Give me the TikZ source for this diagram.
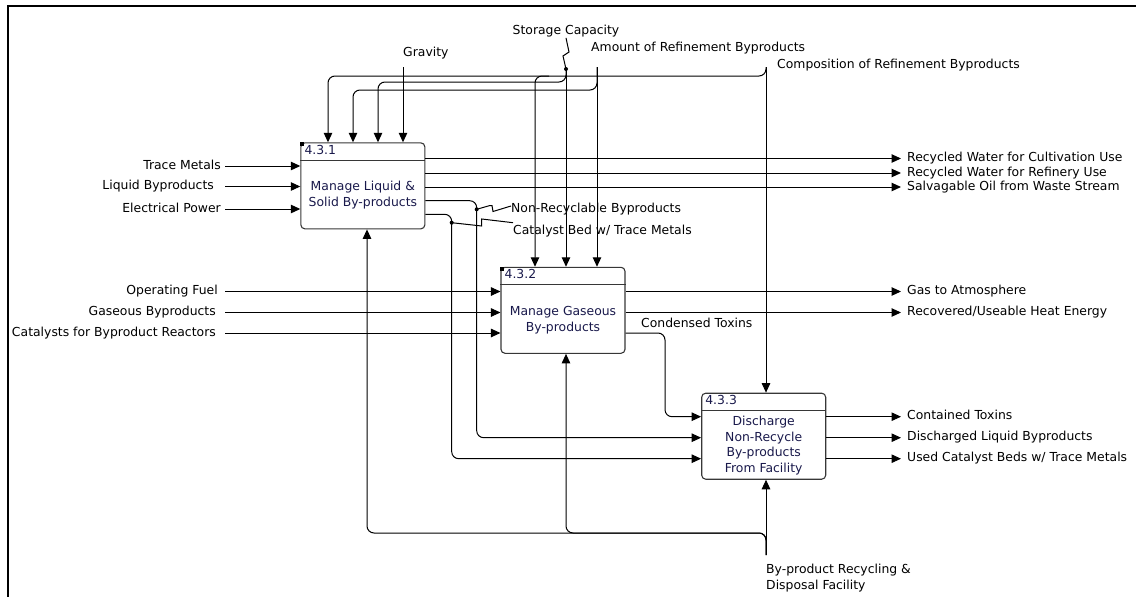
\documentclass[tikz,border=0pt]{standalone}
\usepackage{fontspec}
\setmainfont{DejaVu Sans}
\usetikzlibrary{arrows.meta}
\definecolor{navy}{RGB}{25,25,75}
\definecolor{boxline}{RGB}{55,55,55}
\begin{document}
\begin{tikzpicture}[x=1pt,y=-1pt,
  every node/.style={font=\fontsize{12.4}{15.8}\selectfont},
  lbl/.style={inner sep=0pt, text height=9pt, text depth=3pt},
  box/.style={draw=boxline, line width=1.1pt, rounded corners=4pt, minimum width=124pt, minimum height=86pt, inner sep=0pt},
  divider/.style={draw=boxline, line width=1.1pt},
  arr/.style={-{Triangle[length=9.5pt,width=8.5pt]}, line width=1pt},
  ln/.style={line width=1pt},
  rc/.style={rounded corners=7pt},
  dotc/.style={circle, fill, inner sep=0pt, minimum size=4pt},
  boxtext/.style={align=center, text=navy, inner sep=0pt},
  num/.style={lbl, anchor=west, text=navy}]
\useasboundingbox (0,0) rectangle (1136,597);
% frame
\draw[line width=2pt] (7.5,598) -- (7.5,6) -- (1137,6);

% boxes
\node[box] (b1) at (362.85,185.85) {};
\node[box] (b2) at (563,310.3) {};
\node[box] (b3) at (763.7,436.2) {};
\draw[divider] ([yshift=-18pt]b1.north west) -- ([yshift=-18pt]b1.north east);
\draw[divider] ([yshift=-18pt]b2.north west) -- ([yshift=-18pt]b2.north east);
\draw[divider] ([yshift=-18pt]b3.north west) -- ([yshift=-18pt]b3.north east);
\fill (b1.north west) rectangle ++(4,4);
\fill (b2.north west) rectangle ++(4,4);
\node[num] (n1) at ([xshift=4pt,yshift=-9pt]b1.north west) {4.3.1};
\node[num] (n2) at ([xshift=4pt,yshift=-9pt]b2.north west) {4.3.2};
\node[num] (n3) at ([xshift=4pt,yshift=-9pt]b3.north west) {4.3.3};
\node[boxtext] (t1) at (362.85,195) {Manage Liquid \&\\Solid By-products};
\node[boxtext] (t2) at (563,320) {Manage Gaseous\\By-products};
\node[boxtext] (t3) at (763.7,445.5) {Discharge\\Non-Recycle\\By-products\\From Facility};

% x positions for free line ends
\coordinate (xin) at (225,0);
\coordinate (xout) at (901,0);

% inputs
\node[lbl, anchor=east] (iTM) at (221,166) {Trace Metals};
\node[lbl, anchor=east] (iLB) at (214,186.5) {Liquid Byproducts};
\node[lbl, anchor=east] (iEP) at (221,209) {Electrical Power};
\node[lbl, anchor=east] (iOF) at (218,291.5) {Operating Fuel};
\node[lbl, anchor=east] (iGB) at (216,312.5) {Gaseous Byproducts};
\node[lbl, anchor=east] (iCR) at (216,333) {Catalysts for Byproduct Reactors};
\draw[arr] (xin |- iTM.east) -- (iTM.east -| b1.west);
\draw[arr] (xin |- iLB.east) -- (iLB.east -| b1.west);
\draw[arr] (xin |- iEP.east) -- (iEP.east -| b1.west);
\draw[arr] (xin |- iOF.east) -- (iOF.east -| b2.west);
\draw[arr] (xin |- iGB.east) -- (iGB.east -| b2.west);
\draw[arr] (xin |- iCR.east) -- (iCR.east -| b2.west);

% outputs
\node[lbl, anchor=west] (oRC) at (907,158.5) {Recycled Water for Cultivation Use};
\node[lbl, anchor=west] (oRR) at (907,173) {Recycled Water for Refinery Use};
\node[lbl, anchor=west] (oSO) at (907,187) {Salvagable Oil from Waste Stream};
\node[lbl, anchor=west] (oGA) at (907,291.5) {Gas to Atmosphere};
\node[lbl, anchor=west] (oRH) at (907,312.5) {Recovered/Useable Heat Energy};
\node[lbl, anchor=west] (oCT) at (907,416.7) {Contained Toxins};
\node[lbl, anchor=west] (oDL) at (907,437.7) {Discharged Liquid Byproducts};
\node[lbl, anchor=west] (oUC) at (907,458.7) {Used Catalyst Beds w/ Trace Metals};
\draw[arr] (b1.east |- oRC.west) -- (xout |- oRC.west);
\draw[arr] (b1.east |- oRR.west) -- (xout |- oRR.west);
\draw[arr] (b1.east |- oSO.west) -- (xout |- oSO.west);
\draw[arr] (b2.east |- oGA.west) -- (xout |- oGA.west);
\draw[arr] (b2.east |- oRH.west) -- (xout |- oRH.west);
\draw[arr] (b3.east |- oCT.west) -- (xout |- oCT.west);
\draw[arr] (b3.east |- oDL.west) -- (xout |- oDL.west);
\draw[arr] (b3.east |- oUC.west) -- (xout |- oUC.west);

% controls
\node[lbl, anchor=west] (cGr) at (403,53.3) {Gravity};
\node[lbl] (cSt) at (566,31.7) {Storage Capacity};
\node[lbl, anchor=west] (cAm) at (591,48.3) {Amount of Refinement Byproducts};
\node[lbl, anchor=west] (cCo) at (777,65.7) {Composition of Refinement Byproducts};

\coordinate (jGr) at (403,67);
\draw[arr] (jGr) -- (jGr |- b1.north);

\coordinate (jCo) at (766,67);
\coordinate (kCo1) at (328,76);
\coordinate (kCo2) at (535,76);
\draw[arr] (jCo) -- (jCo |- b3.north);
\draw[arr, rc] (jCo) -- (jCo |- kCo1) -- (kCo1) -- (kCo1 |- b1.north);
\draw[arr, rc] ([xshift=14pt]kCo2) -- (kCo2) -- (kCo2 |- b2.north);

\node[dotc] (dSt) at (566,69) {};
\coordinate (kSt) at (378,82);
\draw[ln] (cSt.south) -- (569,52) -- (563,56) -- (dSt.center);
\draw[arr] (dSt.center) -- (dSt.center |- b2.north);
\draw[arr, rc] (dSt.center) -- (dSt.center |- kSt) -- (kSt) -- (kSt |- b1.north);

\coordinate (jAm) at (597,67);
\coordinate (kAm) at (353,90);
\draw[arr] (jAm) -- (jAm |- b2.north);
\draw[arr, rc] (jAm) -- (jAm |- kAm) -- (kAm) -- (kAm |- b1.north);

% box 1 to box 3
\coordinate (kNR1) at (476.7,200.7);
\coordinate (kNR2) at (476.7,437.7);
\draw[arr, rc] (b1.east |- kNR1) -- (kNR1) -- (kNR2) -- (kNR2 -| b3.west);
\node[dotc] (dNR) at (476.7,209.3) {};
\node[lbl, anchor=west] (lNR) at (511,209) {Non-Recyclable Byproducts};
\draw[ln] (dNR.center) -- (490,205.5) -- (492,205.5) -- (493,211.5) -- ([yshift=3pt]lNR.west);

\coordinate (kCB1) at (451.7,214.3);
\coordinate (kCB2) at (451.7,458.7);
\draw[arr, rc] (b1.east |- kCB1) -- (kCB1) -- (kCB2) -- (kCB2 -| b3.west);
\node[dotc] (dCB) at (451.7,222.7) {};
\node[lbl, anchor=west] (lCB) at (513,231.7) {Catalyst Bed w/ Trace Metals};
\draw[ln] (dCB.center) -- (481.7,226) -- (481.7,219) -- ([yshift=9pt]lCB.west);

% box 2 to box 3
\coordinate (kCT1) at (665,333);
\coordinate (kCT2) at (665,416.7);
\draw[arr, rc] (b2.east |- kCT1) -- (kCT1) -- (kCT2) -- (kCT2 -| b3.west);
\node[lbl, anchor=west] (lCT) at (641,324.3) {Condensed Toxins};

% mechanism
\node[align=left, inner sep=0pt, anchor=north west] (mBR) at (766,564) {By-product Recycling \&\\Disposal Facility};
\coordinate (jBR) at (766,555);
\coordinate (kBR2) at (566,533);
\coordinate (kBR1) at (367,533);
\draw[arr] (jBR) -- (jBR |- b3.south);
\draw[arr, rc] (jBR) -- (jBR |- kBR2) -- (kBR2) -- (kBR2 |- b2.south);
\draw[arr, rc] (jBR) -- (jBR |- kBR1) -- (kBR1) -- (kBR1 |- b1.south);
\end{tikzpicture}
\end{document}
